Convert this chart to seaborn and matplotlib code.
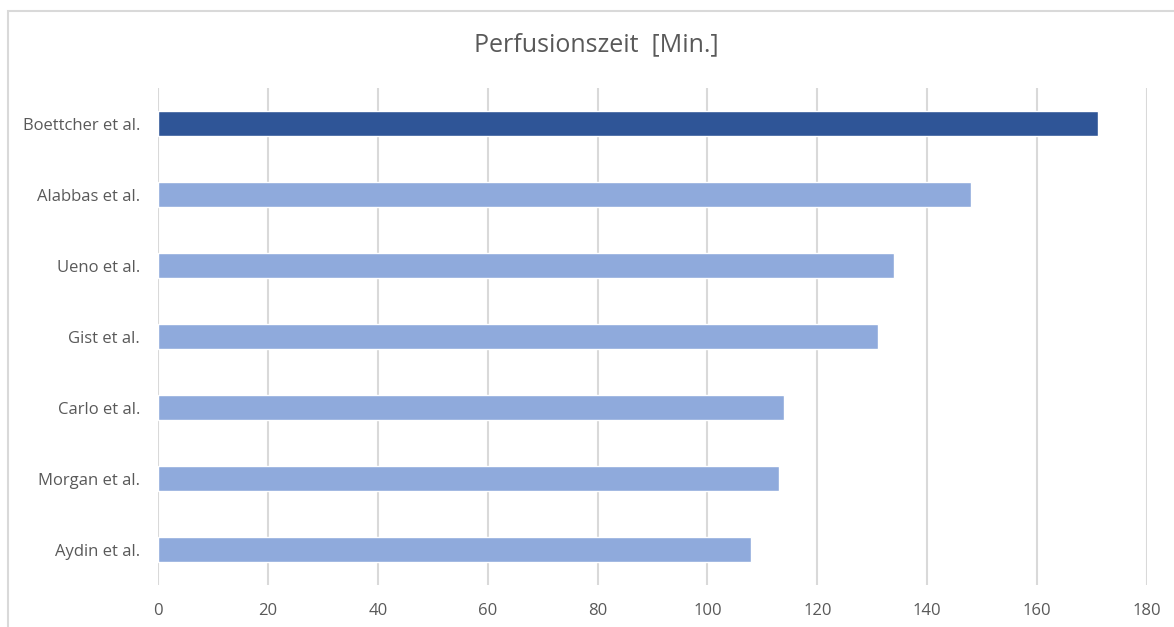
import matplotlib
matplotlib.use("Agg")
import matplotlib.pyplot as plt
import seaborn as sns
import pandas as pd
from matplotlib.patches import Rectangle

studies = ["Boettcher et al.", "Alabbas et al.", "Ueno et al.", "Gist et al.",
           "Carlo et al.", "Morgan et al.", "Aydin et al."]
minutes = [171, 148, 134, 131, 114, 113, 108]
bar_colors = ["#2F5597", "#8FAADC", "#8FAADC", "#8FAADC", "#8FAADC", "#8FAADC", "#8FAADC"]
x_ticks = [0, 20, 40, 60, 80, 100, 120, 140, 160, 180]
title = "Perfusionszeit  [Min.]"

sns.set_theme(style="white")
plt.rcParams['font.family'] = ['Open Sans', 'DejaVu Sans']

df = pd.DataFrame({"study": studies, "minutes": minutes})

fig = plt.figure(figsize=(11.74, 6.27), dpi=100)
ax = fig.add_axes([158/1174, 1-585/627, (1147-158)/1174, (585-88)/627])

sns.barplot(data=df, y="study", x="minutes", hue="study", palette=bar_colors,
            order=studies, hue_order=studies, width=0.35, legend=False,
            orient="h", ax=ax, saturation=1)

ax.set_xlim(0, 180)
ax.set_ylim(len(studies) - 0.5, -0.5)
ax.set_xticks(x_ticks)
ax.set_xlabel("")
ax.set_ylabel("")
ax.xaxis.grid(True, color="#D9D9D9", linewidth=1.5)
ax.yaxis.grid(False)
ax.set_axisbelow(True)
for s in ax.spines.values():
    s.set_visible(False)
ax.tick_params(axis="both", length=0, labelsize=12, colors="#595959")
ax.tick_params(axis="y", pad=13)
ax.tick_params(axis="x", pad=13)

fig.text(596/1174, 1-45/627, title, ha="center", va="center", fontsize=18, color="#595959")

fig.patches.append(Rectangle((8/1174, -0.01), 1.0, 1-11/627 + 0.01, transform=fig.transFigure,
                             fill=False, edgecolor="#D9D9D9", linewidth=1.5, zorder=0))

fig.savefig("out.png", dpi=100)
